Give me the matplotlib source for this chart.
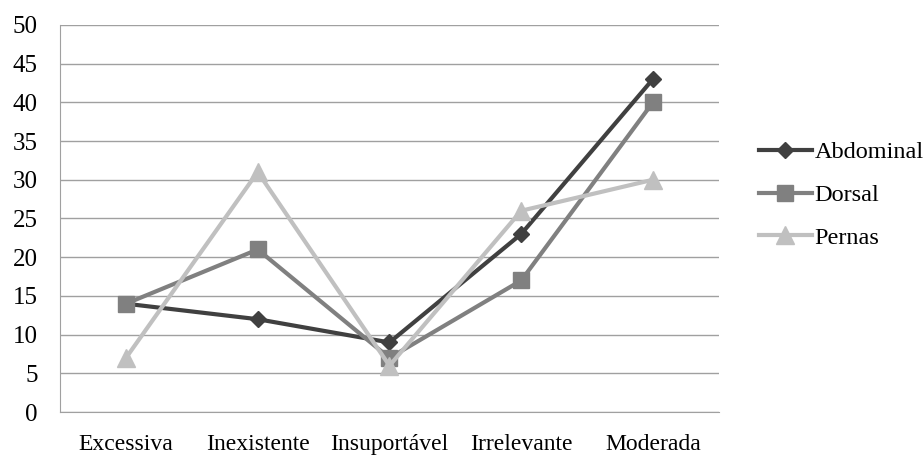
import numpy as np
import matplotlib.pyplot as plt

plt.rcParams['font.family'] = ['Liberation Serif', 'DejaVu Serif']

categorias = ['Excessiva', 'Inexistente', 'Insuportável', 'Irrelevante', 'Moderada']
abdominal = [14, 12, 9, 23, 43]
dorsal = [14, 21, 7, 17, 40]
pernas = [7, 31, 6, 26, 30]

fig = plt.figure(figsize=(9.24, 4.59), dpi=100)
ax = fig.add_axes([0.065, 0.102, 0.713, 0.844])

x = np.arange(len(categorias))
ax.plot(x, abdominal, '-', color='#404040', lw=3, marker='D', ms=8, label='Abdominal')
ax.plot(x, dorsal, '-', color='#808080', lw=3, marker='s', ms=12, label='Dorsal')
ax.plot(x, pernas, '-', color='#c0c0c0', lw=3, marker='^', ms=13, label='Pernas')

ax.set_xlim(-0.5, 4.5)
ax.set_ylim(0, 50)
ax.set_yticks(range(0, 51, 5))
ax.set_xticks(x)
ax.set_xticklabels(categorias, fontsize=17)
ax.tick_params(axis='both', length=0)
ax.tick_params(axis='y', labelsize=18, pad=16)
ax.tick_params(axis='x', pad=16)
ax.yaxis.grid(True, color='#a0a0a0', lw=1)
ax.set_axisbelow(True)
for s in ['top', 'right']:
    ax.spines[s].set_visible(False)
for s in ['left', 'bottom']:
    ax.spines[s].set_color('#a0a0a0')

fig.legend(loc='center left', bbox_to_anchor=(0.821, 0.575), frameon=False,
           fontsize=17.5, handlelength=2.2, handletextpad=0.1, labelspacing=0.85,
           borderaxespad=0, borderpad=0)

fig.savefig('out.png', dpi=100)
